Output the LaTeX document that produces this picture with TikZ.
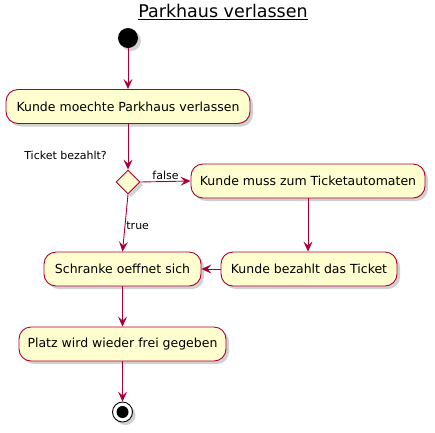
\documentclass[tikz,border=0pt]{standalone}
\usepackage{fontspec}
\setmainfont{DejaVu Sans}
\usetikzlibrary{shapes.geometric,arrows.meta,shadows}
\definecolor{umlred}{HTML}{A80036}
\definecolor{umlfill}{HTML}{FEFECE}
\begin{document}
\begin{tikzpicture}[x=1pt,y=-1pt,
    shade/.style={drop shadow={shadow xshift=3pt,shadow yshift=-3pt,opacity=0.3,fill=black!60}},
    action/.style={draw=umlred,fill=umlfill,line width=0.9pt,rounded corners=12pt,
        minimum height=34pt,inner sep=0pt,font=\fontsize{12.5}{15}\selectfont,shade},
    flow/.style={draw=umlred,line width=0.9pt,-{Stealth[length=10pt,width=9pt,inset=4pt]}},
    guard/.style={font=\fontsize{11}{13}\selectfont,inner sep=1pt}]
        \useasboundingbox (0,0) rectangle (435,432);

        \node[font=\fontsize{17.5}{20}\selectfont] (title) at (223,12) {\underline{Parkhaus verlassen}};

        \node[shape=circle,fill=black,minimum size=20pt,inner sep=0pt,shade] (start) at (128,38) {};
        \node[action,minimum width=244pt] (kunde) at (128,106.5) {Kunde moechte Parkhaus verlassen};
        \node[shape=diamond,draw=umlred,fill=umlfill,line width=0.9pt,minimum width=24pt,
            minimum height=24pt,inner sep=0pt,shade] (dec) at (128,182) {};
        \node[action,minimum width=234pt] (automat) at (308,181) {Kunde muss zum Ticketautomaten};
        \node[action,minimum width=176pt] (bezahlt) at (309,269) {Kunde bezahlt das Ticket};
        \node[action,minimum width=157pt] (schranke) at (122.5,269) {Schranke oeffnet sich};
        \node[action,minimum width=207pt] (platz) at (122.5,344) {Platz wird wieder frei gegeben};
        \node[shape=circle,draw=black,fill=white,line width=0.9pt,minimum size=20pt,inner sep=0pt,shade] (stop) at (122.5,412) {};
        \node[shape=circle,fill=black,minimum size=12pt,inner sep=0pt] (stopdot) at (stop) {};

        \node[guard,anchor=east] (frage) at (108,155) {Ticket bezahlt?};

        \path [flow] (start) -- (kunde);
        \path [flow] (kunde) -- (dec);
        \path [flow] (dec.east) -- node[guard,above] {false} (automat.west);
        \path [flow] (automat) -- (automat |- bezahlt.north);
        \path [flow] (bezahlt) -- (schranke);
        \path [flow] (dec.south) -- node[guard,right,pos=0.55] {true} (schranke.north);
        \path [flow] (schranke) -- (platz);
        \path [flow] (platz) -- (stop);
    \end{tikzpicture}
\end{document}
